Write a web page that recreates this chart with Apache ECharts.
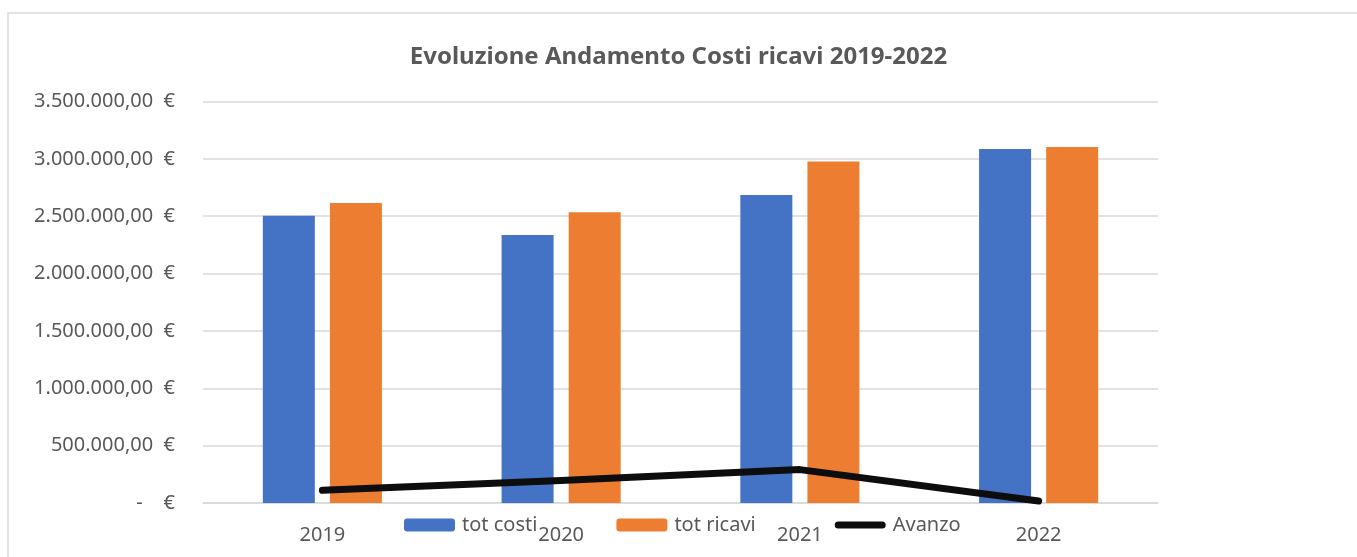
<!DOCTYPE html>
<html>
<head>
<meta charset="utf-8">
<script src="https://cdn.jsdelivr.net/npm/echarts@6/dist/echarts.min.js"></script>
<style>
html,body{margin:0;padding:0;background:#fff;}
#chart{width:1357px;height:557px;}
</style>
</head>
<body>
<div id="chart"></div>
<script>
var anni = ['2019', '2020', '2021', '2022'];
var totCosti = [2505000, 2337000, 2685000, 3086000];
var totRicavi = [2616000, 2534000, 2976000, 3104000];
var avanzo = [111000, 197000, 291000, 18000];
var yTicks = [0, 500000, 1000000, 1500000, 2000000, 2500000, 3000000, 3500000];

//formato contabile italiano
function euro(v){
	if(v == 0) return '-    €';
	var s = Math.round(v).toString().replace(/\B(?=(\d{3})+(?!\d))/g, '.');
	return s + ',00  €';
}

var chart = echarts.init(document.getElementById('chart'));
var testo = '#595959';
var option = {
	animation: false,
	textStyle: { fontFamily: 'Noto Sans' },
	title: {
		text: 'Evoluzione Andamento Costi ricavi 2019-2022',
		left: 'center',
		top: 40,
		textStyle: { color: testo, fontSize: 24, fontWeight: 'bold', fontFamily: 'Noto Sans' }
	},
	graphic: [{
		type: 'rect',
		shape: { x: 8, y: 13, width: 1400, height: 600 },
		style: { fill: 'none', stroke: '#d9d9d9', lineWidth: 1.5 },
		silent: true
	}],
	legend: {
		data: ['tot costi', 'tot ricavi', {
			name: 'Avanzo',
			//icona a capsula come la linea spessa di Excel
			icon: 'path://M3.5,0 L47.5,0 A3.5,3.5 0 0 1 47.5,7 L3.5,7 A3.5,3.5 0 0 1 3.5,0 Z',
			itemStyle: { color: '#0d0d0d' }
		}],
		left: 404,
		top: 515,
		padding: 0,
		itemWidth: 51,
		itemHeight: 13,
		itemGap: 79,
		textStyle: { color: testo, fontSize: 20, padding: [0, 0, 0, 2] }
	},
	grid: { left: 203, right: 199, top: 101.5, bottom: 54 },
	xAxis: {
		type: 'category',
		data: anni,
		axisLine: { lineStyle: { color: '#d9d9d9', width: 1.5 } },
		axisTick: { show: false },
		axisLabel: { color: testo, fontSize: 20, margin: 22 }
	},
	yAxis: {
		type: 'value',
		min: yTicks[0],
		max: yTicks[yTicks.length - 1],
		interval: 500000,
		axisLine: { show: false },
		axisTick: { show: false },
		splitLine: { lineStyle: { color: '#d9d9d9', width: 1.5 } },
		axisLabel: { color: testo, fontSize: 20, margin: 28, formatter: euro }
	},
	series: [{
		name: 'tot costi',
		type: 'bar',
		data: totCosti,
		barWidth: 52,
		barGap: '29%',
		itemStyle: { color: '#4472C4' }
	}, {
		name: 'tot ricavi',
		type: 'bar',
		data: totRicavi,
		barWidth: 52,
		itemStyle: { color: '#ED7D31' }
	}, {
		name: 'Avanzo',
		type: 'line',
		data: avanzo,
		symbol: 'none',
		z: 5,
		itemStyle: { color: '#0d0d0d' },
		lineStyle: { color: '#0d0d0d', width: 7, cap: 'round', join: 'round' }
	}]
};
chart.setOption(option);
</script>
</body>
</html>
